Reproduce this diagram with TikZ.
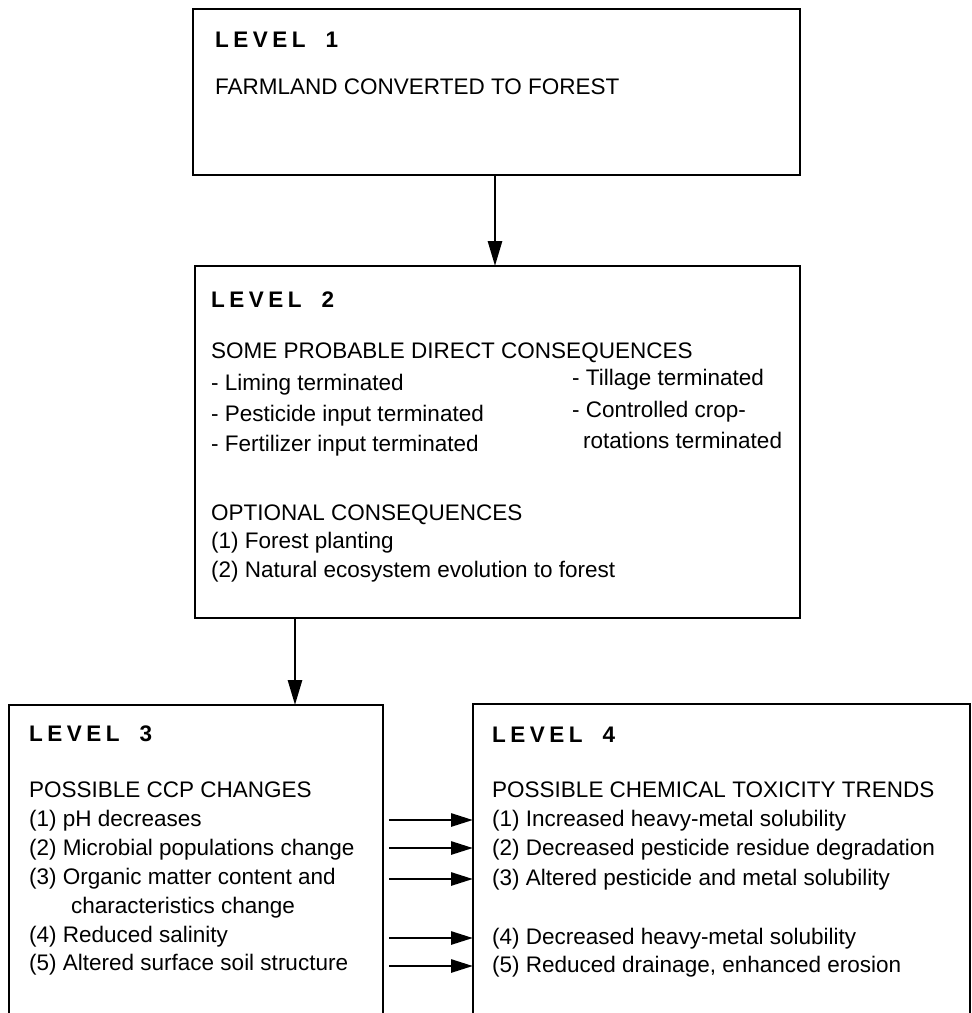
\documentclass[tikz,border=0pt]{standalone}
\usepackage{fontspec}
\setmainfont{Liberation Sans}
\usetikzlibrary{arrows.meta}
\newcommand\lvltext[1]{L\kern4.5pt E\kern4.5pt V\kern4.5pt E\kern4.5pt L\kern20pt #1}
\begin{document}
\begin{tikzpicture}[x=1pt,y=-1pt,
  box/.style={draw, line width=1.9pt, anchor=north west, inner sep=0pt, outer sep=0pt},
  txt/.style={anchor=base west, inner sep=0pt, font=\fontsize{22.5}{27}\selectfont},
  hdr/.style={anchor=base west, inner sep=0pt, font=\fontsize{22.5}{27}\selectfont\bfseries},
  arr/.style={line width=2.8pt, -{Triangle[length=25pt,width=14pt]}},
  harr/.style={line width=2.8pt, -{Triangle[length=22pt,width=13pt]}}]
\useasboundingbox (0,0) rectangle (972,1013);

% boxes
\node[box, minimum width=607pt, minimum height=166pt] (b1) at (193,9) {};
\node[box, minimum width=605pt, minimum height=352pt] (b2) at (195,266) {};
\node[box, minimum width=374pt, minimum height=340pt] (b3) at (9,705) {};
\node[box, minimum width=497pt, minimum height=340pt] (b4) at (473,704) {};

% level 1
\node[hdr] (h1) at (215,47) {\lvltext{1}};
\node[txt] (t1) at (215,94) {FARMLAND CONVERTED TO FOREST};

% level 2
\node[hdr] (h2) at (211,307) {\lvltext{2}};
\node[txt] (s2) at (211,358) {SOME PROBABLE DIRECT CONSEQUENCES};
\node[txt] (c1) at (211,390) {- Liming terminated};
\node[txt] (c2) at (211,421) {- Pesticide input terminated};
\node[txt] (c3) at (211,451) {- Fertilizer input terminated};
\node[txt] (c4) at (572,385) {- Tillage terminated};
\node[txt] (c5) at (572,417) {- Controlled crop-};
\node[txt] (c6) at (583,448) {rotations terminated};
\node[txt] (o2) at (211,520) {OPTIONAL CONSEQUENCES};
\node[txt] (o21) at (211,548) {(1) Forest planting};
\node[txt] (o22) at (211,577) {(2) Natural ecosystem evolution to forest};

% level 3
\node[hdr] (h3) at (29,741) {\lvltext{3}};
\node[txt] (s3) at (29,797) {POSSIBLE CCP CHANGES};
\node[txt] (p1) at (29,826) {(1) pH decreases};
\node[txt] (p2) at (29,855) {(2) Microbial populations change};
\node[txt] (p3) at (29,884) {(3) Organic matter content and};
\node[txt] (p3b) at (71,913) {characteristics change};
\node[txt] (p4) at (29,942) {(4) Reduced salinity};
\node[txt] (p5) at (29,970) {(5) Altered surface soil structure};

% level 4
\node[hdr] (h4) at (492,742) {\lvltext{4}};
\node[txt] (s4) at (492,797) {POSSIBLE CHEMICAL TOXICITY TRENDS};
\node[txt] (q1) at (492,826) {(1) Increased heavy-metal solubility};
\node[txt] (q2) at (492,855) {(2) Decreased pesticide residue degradation};
\node[txt] (q3) at (492,885) {(3) Altered pesticide and metal solubility};
\node[txt] (q4) at (492,944) {(4) Decreased heavy-metal solubility};
\node[txt] (q5) at (492,972) {(5) Reduced drainage, enhanced erosion};

% connectors
\coordinate (a1) at (495,0);
\coordinate (a2) at (295,0);
\draw[arr] (b1.south -| a1) -- (b2.north -| a1);
\draw[arr] (b2.south -| a2) -- (b3.north -| a2);

\coordinate (r1) at (0,820);
\coordinate (r2) at (0,848);
\coordinate (r3) at (0,879);
\coordinate (r4) at (0,938);
\coordinate (r5) at (0,966);
\foreach \r in {r1,r2,r3,r4,r5}
  \draw[harr] ([xshift=6pt]b3.east |- \r) -- (b4.west |- \r);
\end{tikzpicture}
\end{document}
